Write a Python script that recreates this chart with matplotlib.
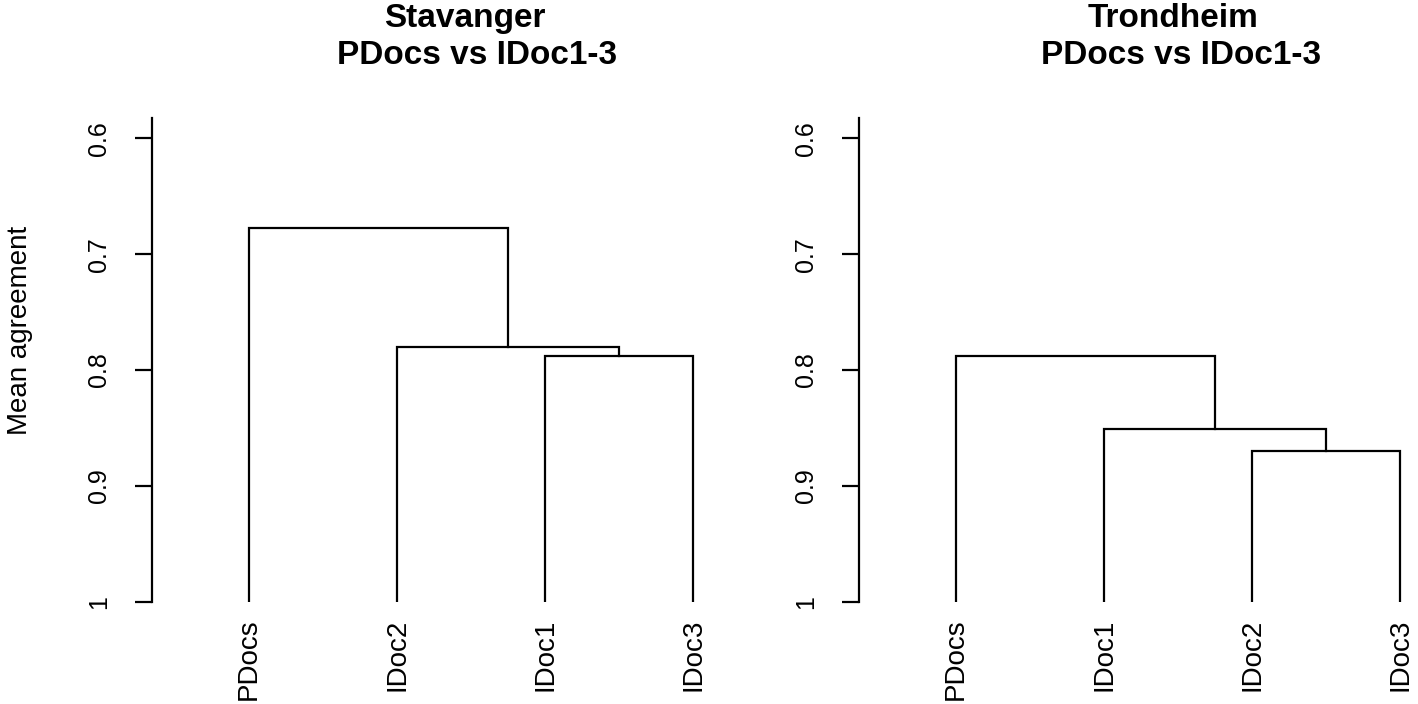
import matplotlib
matplotlib.use("Agg")
import matplotlib.pyplot as plt

plt.rcParams['font.family'] = ['Liberation Sans', 'DejaVu Sans']

# Stavanger: leaf order and merges (R hclust style: negative = leaf, positive = earlier merge)
stav_labels = ["PDocs", "IDoc2", "IDoc1", "IDoc3"]
stav_merge = [(-3, -4), (-2, 1), (-1, 2)]
stav_height = [0.788, 0.780, 0.677]

# Trondheim
trond_labels = ["PDocs", "IDoc1", "IDoc2", "IDoc3"]
trond_merge = [(-3, -4), (-2, 1), (-1, 2)]
trond_height = [0.870, 0.851, 0.788]

y_ticks = [0.6, 0.7, 0.8, 0.9, 1.0]
y_ticklabels = ["0.6", "0.7", "0.8", "0.9", "1"]


def draw_dendro(ax, labels, merge, height):
    n = len(labels)
    leaf_x = list(range(1, n + 1))
    base = 1.0
    pos = {}
    for i, (a, b) in enumerate(merge):
        h = height[i]
        pts = []
        for m in (a, b):
            if m < 0:
                pts.append((leaf_x[-m - 1], base))
            else:
                pts.append(pos[m])
        (x1, y1), (x2, y2) = pts
        ax.plot([x1, x1, x2, x2], [y1, h, h, y2], color="black", lw=1.6,
                solid_joinstyle="miter")
        pos[i + 1] = ((x1 + x2) / 2, h)
    ax.set_xticks(leaf_x)
    ax.set_xticklabels(labels, rotation=90, fontsize=20)
    ax.tick_params(axis="x", length=0, pad=12)


fig = plt.figure(figsize=(14.18, 7.04), dpi=100)
W, H = 1418, 704
ax_w = 556 / W
ax_b = (H - 601.7) / H
ax_h = (601.7 - 118.3) / H
ax1 = fig.add_axes([152 / W, ax_b, ax_w, ax_h])
ax2 = fig.add_axes([859 / W, ax_b, ax_w, ax_h])

for ax, lab, mg, hg in [(ax1, stav_labels, stav_merge, stav_height),
                        (ax2, trond_labels, trond_merge, trond_height)]:
    draw_dendro(ax, lab, mg, hg)
    ax.set_xlim(0.345, 4.1)
    ax.set_ylim(1.0, 0.5827)
    for s in ["top", "right", "bottom"]:
        ax.spines[s].set_visible(False)
    ax.spines["left"].set_linewidth(1.6)
    ax.set_yticks(y_ticks)
    ax.set_yticklabels(y_ticklabels, rotation=90, va="center", fontsize=18)
    ax.tick_params(axis="y", length=12.5, width=1.6, pad=17)

fig.text(20 / W, (H - 330) / H, "Mean agreement", rotation=90,
         ha="center", va="center", fontsize=20)

fig.text(465 / W, (H - 27) / H, "Stavanger", ha="center", va="baseline",
         fontsize=24, fontweight="bold")
fig.text(477 / W, (H - 64) / H, "PDocs vs IDoc1-3", ha="center", va="baseline",
         fontsize=24, fontweight="bold")
fig.text(1173 / W, (H - 27) / H, "Trondheim", ha="center", va="baseline",
         fontsize=24, fontweight="bold")
fig.text(1181 / W, (H - 64) / H, "PDocs vs IDoc1-3", ha="center", va="baseline",
         fontsize=24, fontweight="bold")

fig.savefig("out.png", dpi=100, facecolor="white")
